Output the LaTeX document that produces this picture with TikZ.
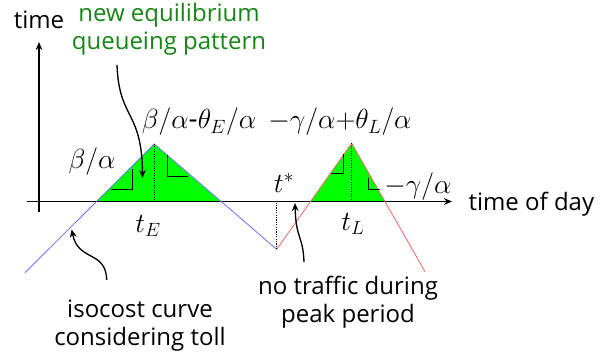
\documentclass[tikz,border=0pt]{standalone}
\usepackage{fontspec}
\setmainfont{Open Sans}
\usetikzlibrary{arrows.meta}
\definecolor{queuegreen}{RGB}{0,255,0}
\definecolor{notegreen}{RGB}{20,135,20}
\definecolor{earlyblue}{RGB}{110,110,255}
\definecolor{latered}{RGB}{255,100,100}
\begin{document}
\begin{tikzpicture}[x=0.75pt,y=-0.75pt,>={Stealth[length=6pt,width=5pt]},
  txt/.style={font=\fontsize{18}{21}\selectfont,align=center,inner sep=1pt},
  mth/.style={font=\fontsize{21}{24}\selectfont,inner sep=1pt},
  note/.style={txt,text=notegreen},
  axis/.style={->,line width=1.2pt},
  ann/.style={->,line width=1pt},
  iso/.style={line width=.6pt},
  rightangle/.style={line width=.7pt},
  guide/.style={densely dotted,line width=.8pt}]
\useasboundingbox (0,0) rectangle (611,364);
% queueing triangles
\fill[queuegreen] (96.7,201.5) -- (154.3,144) -- (220.5,201.5) -- cycle;
\fill[queuegreen] (310.5,201.5) -- (351.7,143.3) -- (384.8,201.5) -- cycle;
% axes
\coordinate (xL) at (27,201.5);
\coordinate (xR) at (452,201.5);
\coordinate (yB) at (39,211.7);
\coordinate (yT) at (39,42);
\draw[axis] (xL) -- (xR);
\draw[axis] (yB) -- (yT);
\node[txt] (ylab) at (39,20) {time};
\node[txt,anchor=west] (xlab) at (467,204) {time of day};
% isocost curve
\coordinate (pE) at (154.3,144);
\coordinate (pS) at (276.7,249.3);
\coordinate (pL) at (351.7,143.3);
\draw[iso,earlyblue] (25,272.7) -- (pE) -- (pS);
\draw[iso,latered] (pS) -- (pL) -- (425,271.7);
\draw[guide] (pE) -- (pE |- xL);
\draw[guide] (pL) -- (pL |- xL);
\draw[guide] (pS) -- (pS |- xL);
% right angle marks
\draw[rightangle] (132.7,169.3) -- (132.7,189.3) -- (110.7,189.3);
\draw[rightangle] (167.3,155) -- (167.3,176.7) -- (187.7,176.7);
\draw[rightangle] (343.3,154) -- (343.3,173.3) -- (330.7,173.3);
\draw[rightangle] (368.3,178.3) -- (368.3,189.3) -- (380,189.3);
% slope labels
\node[mth] (slopeE) at (92,162) {$\beta/\alpha$};
\node[mth] (peakE) at (199,122) {$\beta/\alpha$-$\theta_E/\alpha$};
\node[mth] (peakL) at (340,122) {$-\gamma/\alpha{+}\theta_L/\alpha$};
\node[mth] (slopeL) at (418,187) {$-\gamma/\alpha$};
\node[mth] (tstar) at (284,183) {$t^*$};
\node[mth] (tE) at (148,226) {$t_E$};
\node[mth] (tL) at (353,224) {$t_L$};
% notes
\node[note] (queue) at (169,29) {new equilibrium\\queueing pattern};
\node[txt] (isonote) at (140,326) {isocost curve\\considering toll};
\node[txt] (idle) at (348,302) {no traffic during\\peak period};
\coordinate (queuetip) at (142.5,178);
\coordinate (isotip) at (71.7,229.3);
\coordinate (idletip) at (295,203);
\draw[ann] (117,65) .. controls (119,120) and (142,110) .. (queuetip);
\draw[ann] (106.7,280) .. controls (106,250) and (78,262) .. (isotip);
\draw[ann] (304,262) .. controls (303,235) and (296,240) .. (idletip);
\end{tikzpicture}
\end{document}
